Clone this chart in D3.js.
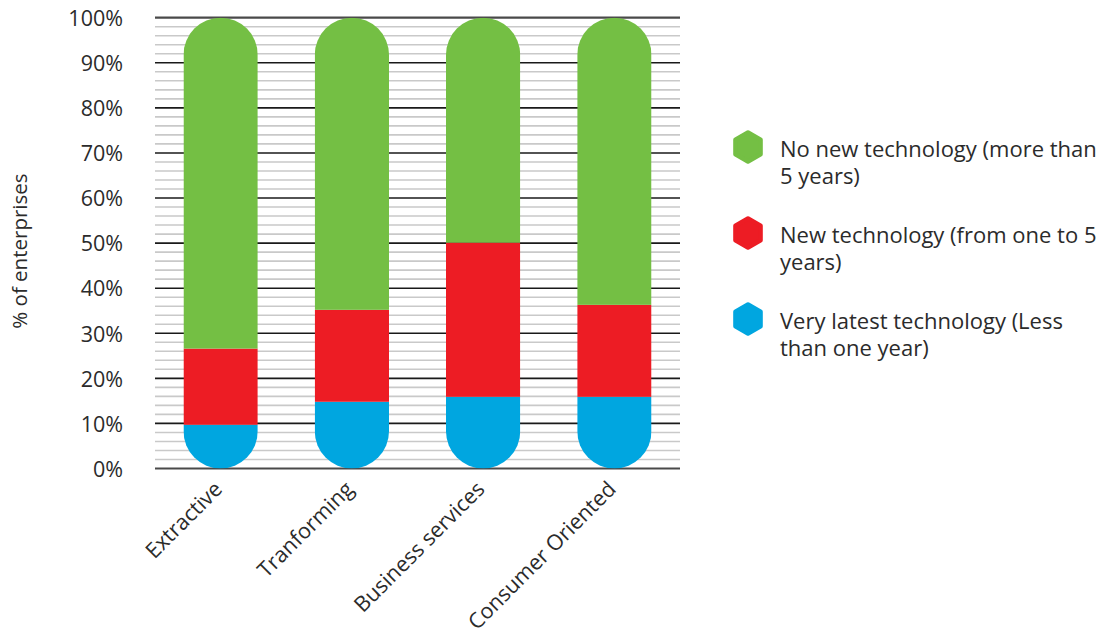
<!DOCTYPE html>
<html>
<head>
<meta charset="utf-8">
<script src="https://cdn.jsdelivr.net/npm/d3@7"></script>
<style>
  html, body { margin: 0; padding: 0; background: #fff; }
  svg { display: block; font-family: "Open Sans", Lato, sans-serif; }
</style>
</head>
<body>
<svg id="chart" width="1102" height="634"></svg>
<script>
// Sectors and the share of enterprises by age of their technology (%)
const categories = ["Extractive", "Tranforming", "Business services", "Consumer Oriented"];
const veryLatest = [9.7, 14.8, 15.9, 15.9];
const newTech    = [16.9, 20.4, 34.2, 20.4];
const noNewTech  = [73.4, 64.8, 49.9, 63.7];

const seriesNames = [
  "Very latest technology (Less than one year)",
  "New technology (from one to 5 years)",
  "No new technology (more than 5 years)"
];
const seriesKeys = ["veryLatest", "newTech", "noNewTech"];
const colors = ["#00a6e0", "#ed1c24", "#74bf44"];
const yTicks = [0, 10, 20, 30, 40, 50, 60, 70, 80, 90, 100];
const legendLines = [
  ["No new technology (more than", "5 years)"],
  ["New technology (from one to 5", "years)"],
  ["Very latest technology (Less", "than one year)"]
];
const legendColors = ["#74bf44", "#ed1c24", "#00a6e0"];

const rows = categories.map((c, i) => ({
  cat: c, veryLatest: veryLatest[i], newTech: newTech[i], noNewTech: noNewTech[i]
}));

const svg = d3.select("#chart");
const m = { left: 155, right: 680, top: 17.7, bottom: 468.5 };
const font = "'Open Sans', Lato, sans-serif";
const ink = "#2b2b2b";

const x = d3.scaleBand().domain(categories)
  .range([m.left, m.right]).paddingInner(0.434).paddingOuter(0.217);
const y = d3.scaleLinear().domain([0, 100]).range([m.bottom, m.top]);

// minor grid every 2%
const minor = d3.range(0, 101, 2).filter(v => v % 10 !== 0);
svg.append("g").selectAll("line").data(minor).join("line")
  .attr("x1", m.left).attr("x2", m.right)
  .attr("y1", d => y(d)).attr("y2", d => y(d))
  .attr("stroke", "#c9c9c9").attr("stroke-width", 1.6);

// major grid every 10%
svg.append("g").selectAll("line").data(yTicks).join("line")
  .attr("x1", m.left).attr("x2", m.right)
  .attr("y1", d => y(d)).attr("y2", d => y(d))
  .attr("stroke", d => (d === 0 || d === 100) ? "#4a4a4a" : "#1a1a1a")
  .attr("stroke-width", d => (d === 0 || d === 100) ? 2.2 : 1.6);

// y axis labels
const yAxis = d3.axisLeft(y).tickValues(yTicks).tickFormat(d => d + "%").tickSize(0).tickPadding(32);
const ya = svg.append("g").attr("transform", `translate(${m.left},0)`).call(yAxis);
ya.select(".domain").remove();
ya.selectAll("text").attr("font-size", 21.5).attr("fill", ink)
  .attr("font-family", font).attr("dy", "0.36em");

// y axis title
svg.append("text")
  .attr("transform", `translate(27,${(m.top + m.bottom) / 2 + 8}) rotate(-90)`)
  .attr("text-anchor", "middle").attr("font-size", 20.5).attr("fill", ink)
  .text("% of enterprises");

// stacked capsule bars
const stack = d3.stack().keys(seriesKeys)(rows);
const defs = svg.append("defs");
const bw = x.bandwidth();
categories.forEach((c, i) => {
  defs.append("clipPath").attr("id", "cap" + i)
    .append("rect")
    .attr("x", x(c)).attr("width", bw)
    .attr("y", y(100)).attr("height", y(0) - y(100))
    .attr("rx", bw / 2).attr("ry", bw / 2);
});
const barG = svg.append("g");
stack.forEach((layer, k) => {
  barG.append("g").attr("fill", colors[k])
    .selectAll("rect").data(layer).join("rect")
    .attr("clip-path", (d, i) => `url(#cap${i})`)
    .attr("x", d => x(d.data.cat)).attr("width", bw)
    .attr("y", d => y(d[1])).attr("height", d => y(d[0]) - y(d[1]));
});

// category labels, rotated
const xa = svg.append("g").attr("transform", `translate(0,${m.bottom})`)
  .call(d3.axisBottom(x).tickSize(0).tickPadding(0));
xa.select(".domain").remove();
xa.selectAll("text")
  .attr("font-size", 21.5).attr("fill", ink).attr("font-family", font)
  .attr("text-anchor", "end").attr("dy", null)
  .attr("transform", "translate(3,22) rotate(-45)");

// legend
const hexR = 14.5;
const hexPts = d3.range(6).map(j => {
  const a = Math.PI / 3 * j - Math.PI / 2;
  return [hexR * Math.cos(a), hexR * Math.sin(a)];
});
const legend = svg.append("g");
legendLines.forEach((lines, i) => {
  const cy = 147 + i * 86;
  const g = legend.append("g").attr("transform", `translate(748,${cy})`);
  g.append("polygon").attr("points", hexPts.map(p => p.join(",")).join(" "))
    .attr("fill", legendColors[i]).attr("stroke", legendColors[i])
    .attr("stroke-width", 4.5).attr("stroke-linejoin", "round");
  const t = g.append("text").attr("x", 32).attr("y", 10)
    .attr("font-size", 22).attr("fill", ink);
  lines.forEach((ln, j) => {
    t.append("tspan").attr("x", 32).attr("dy", j === 0 ? 0 : 27).text(ln);
  });
});
</script>
</body>
</html>
